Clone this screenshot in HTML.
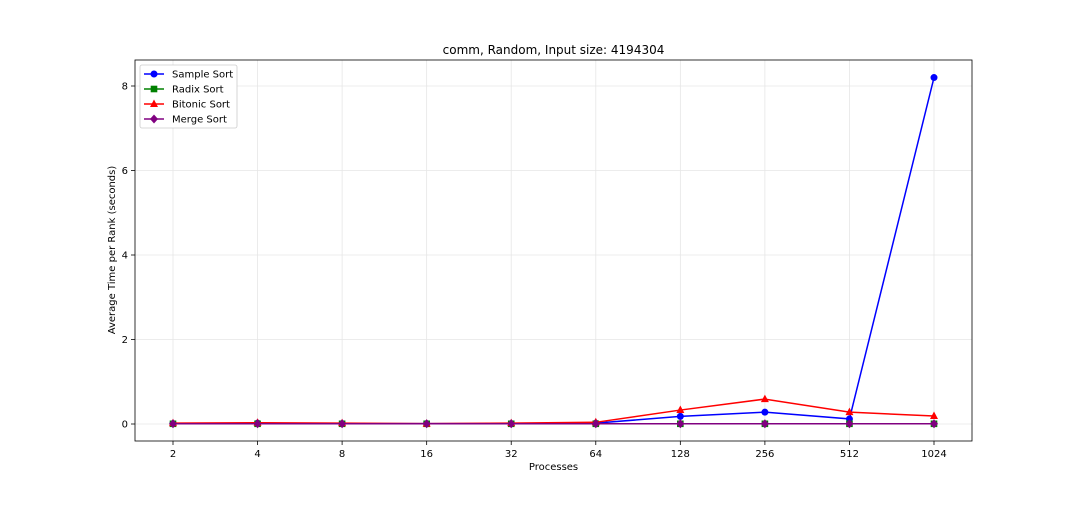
<!DOCTYPE html>
<html><head><meta charset="utf-8"><style>
body{margin:0;background:#fff;}
svg text{font-family:"DejaVu Sans","Liberation Sans",sans-serif;}
</style></head><body>
<svg id="chart" width="1080" height="504" xmlns="http://www.w3.org/2000/svg">
<rect width="1080" height="504" fill="#fff"/>
<g id="grid"></g><g id="axes"></g><g id="series"></g><g id="legend"></g>
</svg>
<script>
const categories = ["2","4","8","16","32","64","128","256","512","1024"];
const sampleSort = [0.01,0.02,0.01,0.01,0.01,0.02,0.18,0.28,0.12,8.2];
const radixSort = [0.005,0.005,0.005,0.005,0.005,0.005,0.005,0.005,0.005,0.005];
const bitonicSort = [0.02,0.03,0.02,0.01,0.02,0.04,0.33,0.59,0.28,0.19];
const mergeSort = [0.005,0.005,0.005,0.005,0.005,0.005,0.005,0.005,0.005,0.005];
const yTicks = [0,2,4,6,8];

const NS="http://www.w3.org/2000/svg";
const L=135,R=972,T=60,B=441;
const x0=173,dx=(934-173)/9;
const xs=i=>x0+i*dx;
const ys=v=>424-v*(424-86)/8;
function mk(tag,attrs,parent,text){const e=document.createElementNS(NS,tag);for(const k in attrs)e.setAttribute(k,attrs[k]);if(text!==undefined)e.textContent=text;parent.appendChild(e);return e;}
const grid=document.getElementById('grid'),axes=document.getElementById('axes'),ser=document.getElementById('series'),leg=document.getElementById('legend');
const svg=document.getElementById('chart');
let t=mk('text',{x:553.5,y:54,'text-anchor':'middle','font-size':12},svg,'comm, Random, Input size: 4194304');


categories.forEach((c,i)=>{
 const g=mk('line',{x1:xs(i),x2:xs(i),y1:T,y2:B,stroke:'#e6e6e6','stroke-width':0.8},grid);
 
 
 mk('line',{x1:xs(i),x2:xs(i),y1:B,y2:B+4,stroke:'#000','stroke-width':0.8},axes);
 const lb=mk('text',{x:xs(i),y:B+16,'text-anchor':'middle','font-size':10},axes,c);
 
 
});
yTicks.forEach(v=>{
 const g=mk('line',{x1:L,x2:R,y1:ys(v),y2:ys(v),stroke:'#e6e6e6','stroke-width':0.8},grid);
 
 
 mk('line',{x1:L-4,x2:L,y1:ys(v),y2:ys(v),stroke:'#000','stroke-width':0.8},axes);
 const lb=mk('text',{x:L-7,y:ys(v)+3.5,'text-anchor':'end','font-size':10},axes,String(v));
 
 
});
const fr=mk('rect',{x:L,y:T,width:R-L,height:B-T,fill:'none',stroke:'#000','stroke-width':0.8},axes);


let xt=mk('text',{x:553.5,y:470,'text-anchor':'middle','font-size':10},axes,'Processes');


let yt=mk('text',{x:115,y:250,'text-anchor':'middle','font-size':10,transform:'rotate(-90 115 250)'},axes,'Average Time per Rank (seconds)');



function marker(shape,x,y,color,p){
 let e;
 if(shape==='circle')e=mk('circle',{cx:x,cy:y,r:3.5,fill:color},p);
 else if(shape==='square')e=mk('rect',{x:x-3.3,y:y-3.3,width:6.6,height:6.6,fill:color},p);
 else if(shape==='tri')e=mk('polygon',{points:`${x},${y-4.5} ${x-4},${y+3} ${x+4},${y+3}`,fill:color},p);
 else e=mk('polygon',{points:`${x},${y-4.5} ${x+4},${y} ${x},${y+4.5} ${x-4},${y}`,fill:color},p);
 return e;
}
const seriesList=[
 {name:'Sample Sort',vals:sampleSort,color:'#0000ff',shape:'circle',key:'sample-sort'},
 {name:'Radix Sort',vals:radixSort,color:'#008000',shape:'square',key:'radix-sort'},
 {name:'Bitonic Sort',vals:bitonicSort,color:'#ff0000',shape:'tri',key:'bitonic-sort'},
 {name:'Merge Sort',vals:mergeSort,color:'#800080',shape:'diamond',key:'merge-sort'}];
seriesList.forEach(s=>{
 const g=mk('g',{},ser);
 
 
 const pl=mk('polyline',{points:s.vals.map((v,i)=>xs(i)+','+ys(v)).join(' '),fill:'none',stroke:s.color,'stroke-width':1.5},g);
 
 
 s.vals.forEach((v,i)=>{const m=marker(s.shape,xs(i),ys(v),s.color,g);
  
  });
});
const lb=mk('rect',{x:140,y:65,width:97,height:63,rx:2,fill:'#fff',stroke:'#ccc','stroke-width':0.8},leg);


seriesList.forEach((s,i)=>{
 const y=74+i*15;
 const g=mk('g',{},leg);
 
 
 mk('line',{x1:144,x2:164,y1:y,y2:y,stroke:s.color,'stroke-width':1.5},g);
 marker(s.shape,154,y,s.color,g);
 mk('text',{x:172,y:y+3.5,'font-size':10},g,s.name);
});
</script>
</body></html>
